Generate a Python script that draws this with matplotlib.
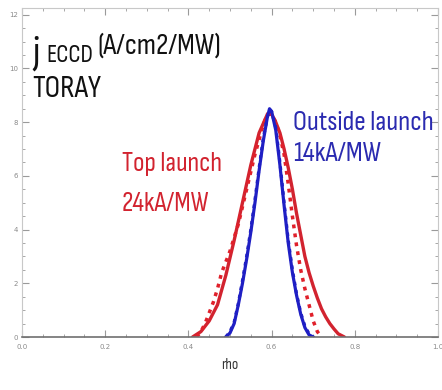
import matplotlib
matplotlib.use("Agg")
import matplotlib.pyplot as plt
from matplotlib.ticker import MultipleLocator

# ---- data ----
rho_blue = [0.49, 0.50, 0.51, 0.52, 0.53, 0.54, 0.55, 0.56, 0.57, 0.58, 0.59, 0.595,
            0.60, 0.61, 0.62, 0.63, 0.64, 0.65, 0.66, 0.67, 0.68, 0.69, 0.70]
j_blue = [0.0, 0.15, 0.5, 1.2, 2.0, 2.9, 3.9, 5.0, 6.2, 7.3, 8.2, 8.5,
          8.4, 7.7, 6.4, 4.9, 3.5, 2.4, 1.55, 0.85, 0.35, 0.08, 0.0]

rho_blue_dot = [0.49, 0.50, 0.51, 0.52, 0.53, 0.54, 0.55, 0.56, 0.57, 0.58, 0.59, 0.595,
                0.60, 0.61, 0.62, 0.63, 0.64, 0.65, 0.66, 0.67, 0.68, 0.69, 0.70]
j_blue_dot = [0.0, 0.2, 0.55, 1.25, 2.1, 3.0, 4.0, 5.1, 6.3, 7.4, 8.2, 8.45,
              8.4, 7.8, 6.5, 5.0, 3.6, 2.5, 1.6, 0.9, 0.4, 0.12, 0.0]

rho_red = [0.41, 0.43, 0.45, 0.47, 0.49, 0.51, 0.53, 0.55, 0.57, 0.59, 0.60, 0.61,
           0.62, 0.63, 0.64, 0.65, 0.66, 0.67, 0.68, 0.69, 0.70, 0.71, 0.72, 0.73,
           0.74, 0.75, 0.76, 0.775]
j_red = [0.0, 0.2, 0.6, 1.2, 2.3, 3.6, 5.0, 6.4, 7.6, 8.3, 8.3, 8.0,
         7.6, 7.0, 6.3, 5.5, 4.6, 3.8, 3.0, 2.4, 1.9, 1.45, 1.05, 0.75,
         0.5, 0.3, 0.12, 0.0]

rho_red_dot = [0.42, 0.43, 0.44, 0.45, 0.46, 0.47, 0.475, 0.48, 0.50, 0.52, 0.54, 0.56,
               0.58, 0.59, 0.60, 0.61, 0.62, 0.63, 0.64, 0.65, 0.66, 0.67, 0.68,
               0.69, 0.70, 0.71, 0.72]
j_red_dot = [0.0, 0.2, 0.5, 0.9, 1.3, 1.8, 2.1, 2.4, 3.2, 4.2, 5.5, 6.8,
             7.9, 8.3, 8.3, 8.0, 7.5, 6.8, 5.7, 4.5, 3.4, 2.5, 1.8,
             1.2, 0.6, 0.2, 0.0]

xticks = [0.0, 0.2, 0.4, 0.6, 0.8, 1.0]
yticks = [0, 2, 4, 6, 8, 10, 12]

RED = "#d2232f"
RED_DOT = "#e0202a"
BLUE = "#1f1fc4"
BLUE_TXT = "#2b2bb0"
FONT = ["Sofia Sans Condensed", "PT Sans Narrow", "DejaVu Sans"]
W = "medium"

fig = plt.figure(figsize=(4.42, 3.90), dpi=100)
ax = fig.add_axes([22 / 442, 1 - 337 / 390, 416 / 442, 329 / 390])

ax.plot(rho_red, j_red, color=RED, lw=2.4, solid_capstyle="round")
ax.plot(rho_red_dot, j_red_dot, color=RED_DOT, lw=2.5, ls=(0, (1.1, 1.5)))
ax.plot(rho_blue, j_blue, color=BLUE, lw=2.3)
ax.plot(rho_blue_dot, j_blue_dot, color=BLUE, lw=2.3, ls=(0, (1.1, 1.5)))

ax.set_xlim(0, 1)
ax.set_ylim(0, 12.25)
ax.set_xticks(xticks)
ax.set_yticks(yticks)
ax.set_xticklabels([f"{v:.1f}" for v in xticks])
ax.set_yticklabels([str(v) for v in yticks])
ax.xaxis.set_minor_locator(MultipleLocator(0.05))
ax.yaxis.set_minor_locator(MultipleLocator(0.5))
ax.tick_params(which="both", direction="in", top=True, right=True, colors="#9a9a9a",
               labelsize=5, labelcolor="#8a8a8a")
ax.tick_params(which="major", length=5, width=0.8)
ax.tick_params(which="minor", length=2.5, width=0.6)
ax.tick_params(axis="y", pad=3)
ax.tick_params(axis="x", pad=5)
for s in ["top", "right", "left"]:
    ax.spines[s].set_color("#c8c8c8")
    ax.spines[s].set_linewidth(0.8)
ax.spines["bottom"].set_color("#707070")
ax.spines["bottom"].set_linewidth(1.2)

ax.set_xlabel("rho", fontsize=11, family=FONT, color="#333333", labelpad=6)

# annotations (figure pixel coordinates -> fractions)
def fx(px):
    return px / 442

def fy(py):
    return 1 - py / 390

fig.text(fx(33), fy(64), "j", fontsize=29, family=FONT, weight=W, color="#111111", va="baseline")
fig.text(fx(46), fy(62), "ECCD", fontsize=18, family=FONT, weight=W, color="#111111", va="baseline")
fig.text(fx(97), fy(54), "(A/cm2/MW)", fontsize=21.5, family=FONT, weight=W, color="#111111", va="baseline")
fig.text(fx(32), fy(97), "TORAY", fontsize=22.5, family=FONT, weight=W, color="#111111", va="baseline")

fig.text(fx(122), fy(171), "Top launch", fontsize=19.8, family=FONT, weight=W, color=RED, va="baseline")
fig.text(fx(122), fy(211), "24kA/MW", fontsize=19.8, family=FONT, weight=W, color=RED, va="baseline")
fig.text(fx(293), fy(130), "Outside launch", fontsize=20.3, family=FONT, weight=W, color=BLUE_TXT, va="baseline")
fig.text(fx(293), fy(161), "14kA/MW", fontsize=20.3, family=FONT, weight=W, color=BLUE_TXT, va="baseline")

fig.savefig("out.png", dpi=100)
